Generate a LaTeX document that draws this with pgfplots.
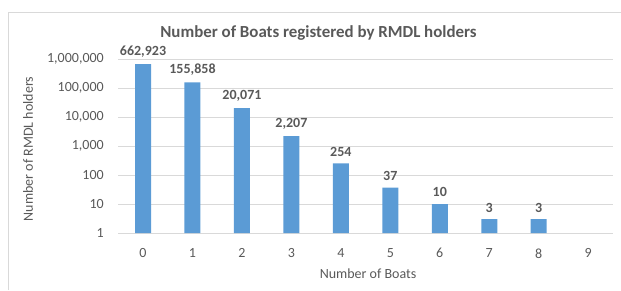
\documentclass[border=0pt]{standalone}
\usepackage{pgfplots}
\pgfplotsset{compat=1.18}
\usepackage{fontspec}
\setmainfont{Carlito}
\definecolor{barblue}{HTML}{5B9BD5}
\definecolor{txt}{HTML}{595959}
\definecolor{gridc}{HTML}{D9D9D9}
\begin{document}
\begin{tikzpicture}[x=1pt,y=1pt]
\path[use as bounding box] (0,0) rectangle (621,290);
\draw[gridc, line width=1pt] (8,0) -- (8,277) -- (621,277);
\node[font=\bfseries\fontsize{16.9}{19}\selectfont, text=txt] at (318.5,257) {Number of Boats registered by RMDL holders};
\begin{axis}[
  at={(118.3pt,57pt)}, anchor=south west,
  scale only axis, width=494.6pt, height=174pt,
  ymode=log, ymin=1, ymax=1000000,
  xmin=-0.5, xmax=9.5,
  ybar, bar width=16pt,
  axis x line*=bottom, axis y line*=left,
  axis line style={draw=none},
  tick style={draw=none},
  major tick length=0pt,
  ymajorgrids, grid style={gridc, line width=0.8pt},
  xtick={0,...,9},
  xticklabels={0,1,2,3,4,5,6,7,8,9},
  ytick={1,10,100,1000,10000,100000,1000000},
  yticklabels={1,10,100,{1,000},{10,000},{100,000},{1,000,000}},
  ticklabel style={font=\fontsize{14}{16}\selectfont, text=txt},
  yticklabel style={xshift=-11pt},
  xticklabel style={yshift=-12pt},
  log origin=infty,
  point meta=explicit symbolic,
  nodes near coords,
  nodes near coords style={font=\bfseries\fontsize{14}{16}\selectfont, text=txt, yshift=3.5pt},
  clip=false,
]
\addplot[fill=barblue, draw=none] coordinates {
  (0,662923) [662,923]
  (1,155858) [155,858]
  (2,20071) [20,071]
  (3,2207) [2,207]
  (4,254) [254]
  (5,37) [37]
  (6,10) [10]
  (7,3) [3]
  (8,3) [3]
};
\end{axis}
\node[rotate=90, font=\fontsize{14}{16}\selectfont, text=txt] at (28,141) {Number of RMDL holders};
\node[font=\fontsize{14}{16}\selectfont, text=txt] at (368,16) {Number of Boats};
\end{tikzpicture}
\end{document}
